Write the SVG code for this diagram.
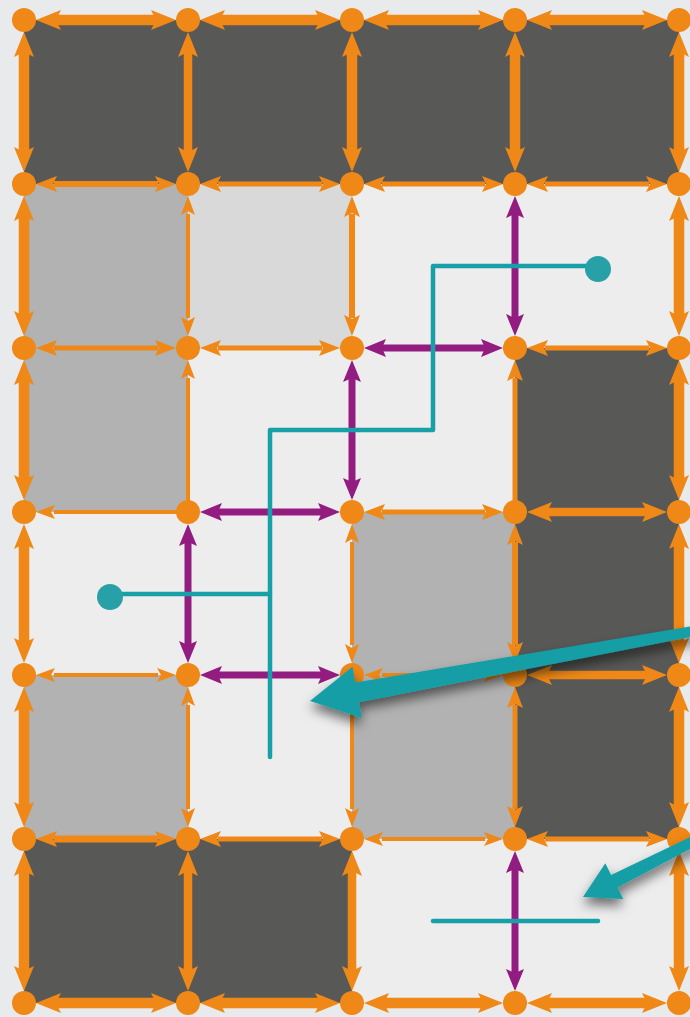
<svg xmlns="http://www.w3.org/2000/svg" width="690" height="1017" viewBox="0 0 690 1017">
<defs>
<style>
.e{fill:none}
.ob{stroke:#ef8816;marker-start:url(#mob);marker-end:url(#mob)}
.om{stroke:#ef8816;marker-start:url(#mom);marker-end:url(#mom)}
.os{stroke:#ef8816;marker-start:url(#mos);marker-end:url(#mos)}
.os1{stroke:#ef8816;marker-end:url(#mos)}
.om1{stroke:#ef8816;marker-end:url(#mom)}
.pp{stroke:#931c80;stroke-width:7;marker-start:url(#mpp);marker-end:url(#mpp)}
.w10{stroke-width:10.5}.w8{stroke-width:8.5}.w7{stroke-width:7}.w6{stroke-width:6}.w5{stroke-width:5}.w4{stroke-width:4}
.n{fill:#ef8816}
.D{fill:#585856}.G{fill:#b2b2b2}.L{fill:#d9d9d9}.V{fill:#ededed}
.t{fill:none;stroke:#17a0a8;stroke-width:4.5;stroke-linecap:round;stroke-linejoin:round}
.td{fill:#27a1a7}
.ba{fill:#149ea6;filter:url(#sh)}
</style>
<marker id="mob" viewBox="-30 -15 60 30" markerWidth="60" markerHeight="30" refX="0" refY="0" orient="auto-start-reverse" markerUnits="userSpaceOnUse"><path d="M18,0 L-7,-10 L-2,0 L-7,10 Z" fill="#ef8816"/></marker>
<marker id="mom" viewBox="-30 -15 60 30" markerWidth="60" markerHeight="30" refX="0" refY="0" orient="auto-start-reverse" markerUnits="userSpaceOnUse"><path d="M18,0 L-3,-8 L1,0 L-3,8 Z" fill="#ef8816"/></marker>
<marker id="mos" viewBox="-30 -15 60 30" markerWidth="60" markerHeight="30" refX="0" refY="0" orient="auto-start-reverse" markerUnits="userSpaceOnUse"><path d="M18,0 L-1,-7 L3,0 L-1,7 Z" fill="#ef8816"/></marker>
<marker id="mpp" viewBox="-30 -15 60 30" markerWidth="60" markerHeight="30" refX="0" refY="0" orient="auto-start-reverse" markerUnits="userSpaceOnUse"><path d="M18,0 L-4,-9 L0,0 L-4,9 Z" fill="#931c80"/></marker>
<filter id="sh" x="-20%" y="-30%" width="140%" height="180%"><feDropShadow dx="0" dy="7" stdDeviation="6" flood-color="#000" flood-opacity="0.55"/></filter>
</defs>
<rect width="690" height="1017" fill="#e9eaec"/>
<g id="cells">
<rect class="D" x="24" y="20" width="164" height="164"/>
<rect class="D" x="188" y="20" width="164" height="164"/>
<rect class="D" x="352" y="20" width="163" height="164"/>
<rect class="D" x="515" y="20" width="164" height="164"/>
<rect class="G" x="24" y="184" width="164" height="164"/>
<rect class="L" x="188" y="184" width="164" height="164"/>
<rect class="V" x="352" y="184" width="163" height="164"/>
<rect class="V" x="515" y="184" width="164" height="164"/>
<rect class="G" x="24" y="348" width="164" height="164"/>
<rect class="V" x="188" y="348" width="164" height="164"/>
<rect class="V" x="352" y="348" width="163" height="164"/>
<rect class="D" x="515" y="348" width="164" height="164"/>
<rect class="V" x="24" y="512" width="164" height="163"/>
<rect class="V" x="188" y="512" width="164" height="163"/>
<rect class="G" x="352" y="512" width="163" height="163"/>
<rect class="D" x="515" y="512" width="164" height="163"/>
<rect class="G" x="24" y="675" width="164" height="164"/>
<rect class="V" x="188" y="675" width="164" height="164"/>
<rect class="G" x="352" y="675" width="163" height="164"/>
<rect class="D" x="515" y="675" width="164" height="164"/>
<rect class="D" x="24" y="839" width="164" height="164"/>
<rect class="D" x="188" y="839" width="164" height="164"/>
<rect class="V" x="352" y="839" width="163" height="164"/>
<rect class="V" x="515" y="839" width="164" height="164"/>
</g>
<g id="connectors" class="e">
<line class="ob w10" x1="54" y1="20" x2="158" y2="20"/>
<line class="ob w10" x1="218" y1="20" x2="322" y2="20"/>
<line class="ob w10" x1="382" y1="20" x2="485" y2="20"/>
<line class="ob w10" x1="545" y1="20" x2="649" y2="20"/>
<line class="om w6" x1="54" y1="184" x2="158" y2="184"/>
<line class="om w5" x1="218" y1="184" x2="322" y2="184"/>
<line class="om w5" x1="382" y1="184" x2="485" y2="184"/>
<line class="om w5" x1="545" y1="184" x2="649" y2="184"/>
<line class="om w5" x1="54" y1="348" x2="158" y2="348"/>
<line class="om w5" x1="218" y1="348" x2="322" y2="348"/>
<line class="pp" x1="382" y1="348" x2="485" y2="348"/>
<line class="om w5" x1="545" y1="348" x2="649" y2="348"/>
<line class="os1 w4" x1="188" y1="512" x2="54" y2="512"/>
<line class="pp" x1="218" y1="512" x2="322" y2="512"/>
<line class="om w5" x1="382" y1="512" x2="485" y2="512"/>
<line class="ob w8" x1="545" y1="512" x2="649" y2="512"/>
<line class="os w4" x1="54" y1="675" x2="158" y2="675"/>
<line class="pp" x1="218" y1="675" x2="322" y2="675"/>
<line class="os w4" x1="382" y1="675" x2="485" y2="675"/>
<line class="ob w8" x1="545" y1="675" x2="649" y2="675"/>
<line class="om w7" x1="54" y1="839" x2="158" y2="839"/>
<line class="om w5" x1="218" y1="839" x2="322" y2="839"/>
<line class="os w4" x1="382" y1="839" x2="485" y2="839"/>
<line class="om w5" x1="545" y1="839" x2="649" y2="839"/>
<line class="ob w10" x1="54" y1="1003" x2="158" y2="1003"/>
<line class="ob w10" x1="218" y1="1003" x2="322" y2="1003"/>
<line class="ob w10" x1="382" y1="1003" x2="485" y2="1003"/>
<line class="ob w10" x1="545" y1="1003" x2="649" y2="1003"/>
<line class="ob w10" x1="24" y1="50" x2="24" y2="154"/>
<line class="ob w10" x1="24" y1="214" x2="24" y2="318"/>
<line class="ob w10" x1="24" y1="378" x2="24" y2="482"/>
<line class="ob w10" x1="24" y1="542" x2="24" y2="645"/>
<line class="ob w10" x1="24" y1="705" x2="24" y2="809"/>
<line class="ob w10" x1="24" y1="869" x2="24" y2="973"/>
<line class="ob w8" x1="188" y1="50" x2="188" y2="154"/>
<line class="os w4" x1="188" y1="214" x2="188" y2="318"/>
<line class="os1 w4" x1="188" y1="512" x2="188" y2="378"/>
<line class="pp" x1="188" y1="542" x2="188" y2="645"/>
<line class="os w4" x1="188" y1="705" x2="188" y2="809"/>
<line class="ob w8" x1="188" y1="869" x2="188" y2="973"/>
<line class="ob w10" x1="352" y1="50" x2="352" y2="154"/>
<line class="om w6" x1="352" y1="214" x2="352" y2="318"/>
<line class="pp" x1="352" y1="378" x2="352" y2="482"/>
<line class="os w4" x1="352" y1="542" x2="352" y2="645"/>
<line class="os w4" x1="352" y1="705" x2="352" y2="809"/>
<line class="ob w8" x1="352" y1="869" x2="352" y2="973"/>
<line class="ob w10" x1="515" y1="50" x2="515" y2="154"/>
<line class="pp" x1="515" y1="214" x2="515" y2="318"/>
<line class="om1 w5" x1="515" y1="512" x2="515" y2="378"/>
<line class="om w6" x1="515" y1="542" x2="515" y2="645"/>
<line class="om w5" x1="515" y1="705" x2="515" y2="809"/>
<line class="pp" x1="515" y1="869" x2="515" y2="973"/>
<line class="ob w10" x1="679" y1="50" x2="679" y2="154"/>
<line class="ob w10" x1="679" y1="214" x2="679" y2="318"/>
<line class="ob w10" x1="679" y1="378" x2="679" y2="482"/>
<line class="ob w10" x1="679" y1="542" x2="679" y2="645"/>
<line class="ob w10" x1="679" y1="705" x2="679" y2="809"/>
<line class="ob w10" x1="679" y1="869" x2="679" y2="973"/>
</g>
<g id="nodes">
<g id="n00"><circle class="n" cx="24" cy="20" r="12"/></g>
<g id="n10"><circle class="n" cx="188" cy="20" r="12"/></g>
<g id="n20"><circle class="n" cx="352" cy="20" r="12"/></g>
<g id="n30"><circle class="n" cx="515" cy="20" r="12"/></g>
<g id="n40"><circle class="n" cx="679" cy="20" r="12"/></g>
<g id="n01"><circle class="n" cx="24" cy="184" r="12"/></g>
<g id="n11"><circle class="n" cx="188" cy="184" r="12"/></g>
<g id="n21"><circle class="n" cx="352" cy="184" r="12"/></g>
<g id="n31"><circle class="n" cx="515" cy="184" r="12"/></g>
<g id="n41"><circle class="n" cx="679" cy="184" r="12"/></g>
<g id="n02"><circle class="n" cx="24" cy="348" r="12"/></g>
<g id="n12"><circle class="n" cx="188" cy="348" r="12"/></g>
<g id="n22"><circle class="n" cx="352" cy="348" r="12"/></g>
<g id="n32"><circle class="n" cx="515" cy="348" r="12"/></g>
<g id="n42"><circle class="n" cx="679" cy="348" r="12"/></g>
<g id="n03"><circle class="n" cx="24" cy="512" r="12"/></g>
<g id="n13"><circle class="n" cx="188" cy="512" r="12"/></g>
<g id="n23"><circle class="n" cx="352" cy="512" r="12"/></g>
<g id="n33"><circle class="n" cx="515" cy="512" r="12"/></g>
<g id="n43"><circle class="n" cx="679" cy="512" r="12"/></g>
<g id="n04"><circle class="n" cx="24" cy="675" r="12"/></g>
<g id="n14"><circle class="n" cx="188" cy="675" r="12"/></g>
<g id="n24"><circle class="n" cx="352" cy="675" r="12"/></g>
<g id="n34"><circle class="n" cx="515" cy="675" r="12"/></g>
<g id="n44"><circle class="n" cx="679" cy="675" r="12"/></g>
<g id="n05"><circle class="n" cx="24" cy="839" r="12"/></g>
<g id="n15"><circle class="n" cx="188" cy="839" r="12"/></g>
<g id="n25"><circle class="n" cx="352" cy="839" r="12"/></g>
<g id="n35"><circle class="n" cx="515" cy="839" r="12"/></g>
<g id="n45"><circle class="n" cx="679" cy="839" r="12"/></g>
<g id="n06"><circle class="n" cx="24" cy="1003" r="12"/></g>
<g id="n16"><circle class="n" cx="188" cy="1003" r="12"/></g>
<g id="n26"><circle class="n" cx="352" cy="1003" r="12"/></g>
<g id="n36"><circle class="n" cx="515" cy="1003" r="12"/></g>
<g id="n46"><circle class="n" cx="679" cy="1003" r="12"/></g>
</g>
<g id="paths">
<path class="t" d="M598,266 L433,266 L433,430 L270,430 L270,757"/>
<path class="t" d="M110,594 L270,594"/>
<path class="t" d="M433,921 L598,921"/>
<circle class="td" cx="598" cy="269" r="13"/>
<circle class="td" cx="110" cy="597" r="13"/>
</g>
<g id="pointers">
<polygon class="ba" points="310,701 352.5,666.8 355.4,682.6 699.1,625.1 700.9,634.9 359,702.2 361.9,718"/>
<polygon class="ba" points="583,897 605.3,863.3 611.1,874.9 697.8,833.5 702.3,842.5 617.5,887.5 623.3,899.1"/>
</g>
</svg>
